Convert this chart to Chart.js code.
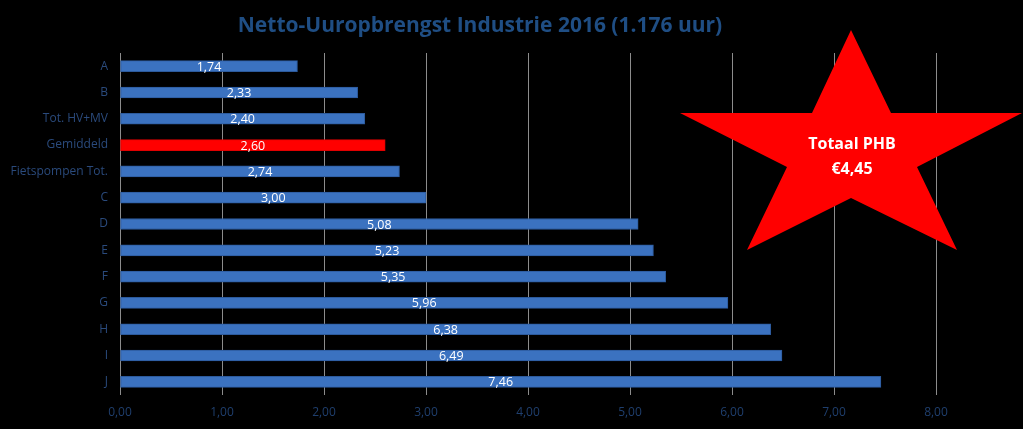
<!DOCTYPE html>
<html>
<head>
<meta charset="utf-8">
<script src="https://cdn.jsdelivr.net/npm/chart.js@4/dist/chart.umd.min.js"></script>
<style>
  html, body { margin: 0; padding: 0; background: #000; }
  canvas { display: block; }
</style>
</head>
<body>
<canvas id="chart" width="1023" height="429"></canvas>
<script>
const categories = ["A", "B", "Tot. HV+MV", "Gemiddeld", "Fietspompen Tot.", "C", "D", "E", "F", "G", "H", "I", "J"];
const values = [1.74, 2.33, 2.40, 2.60, 2.74, 3.00, 5.08, 5.23, 5.35, 5.96, 6.38, 6.49, 7.46];
const highlight = "Gemiddeld";
const xTicks = [0, 1, 2, 3, 4, 5, 6, 7, 8];
const titleText = "Netto-Uuropbrengst Industrie 2016 (1.176 uur)";
const starLines = ["Totaal PHB", "€4,45"];

const fmt = function (v) { return v.toFixed(2).replace(".", ","); };

// callout star outline (pixels on the page)
const starPts = [
  [851, 30], [891, 113], [1022, 113], [917, 167], [957, 250],
  [851, 198], [747, 250], [787, 167], [680, 113], [812, 113]
];

// title, value labels and the star callout
const extras = {
  id: "extras",
  afterDatasetsDraw: function (chart) {
    var ctx = chart.ctx;
    var meta = chart.getDatasetMeta(0);
    ctx.save();
    ctx.fillStyle = "#ffffff";
    ctx.font = "12.5px 'Open Sans'";
    ctx.textAlign = "center";
    ctx.textBaseline = "middle";
    meta.data.forEach(function (bar, i) {
      var x = (bar.x + bar.base) / 2;
      ctx.fillText(fmt(values[i]), x, bar.y + 1);
    });

    ctx.fillStyle = "#1f4e84";
    ctx.font = "bold 21px 'Open Sans'";
    ctx.fillText(titleText, 480, 26);

    ctx.beginPath();
    starPts.forEach(function (p, k) {
      if (k === 0) ctx.moveTo(p[0], p[1]); else ctx.lineTo(p[0], p[1]);
    });
    ctx.closePath();
    ctx.fillStyle = "#ff0000";
    ctx.fill();
    ctx.fillStyle = "#ffffff";
    ctx.font = "bold 16px 'Open Sans'";
    ctx.fillText(starLines[0], 852, 144);
    ctx.fillText(starLines[1], 852, 169);
    ctx.restore();
  }
};

const ctx = document.getElementById("chart").getContext("2d");
const myChart = new Chart(ctx, {
  type: "bar",
  data: {
    labels: categories,
    datasets: [
      {
        data: values,
        backgroundColor: categories.map(function (c) { return c === highlight ? "#ff0000" : "#3b72c0"; }),
        borderColor: categories.map(function (c) { return c === highlight ? "#e00000" : "#2c5a9c"; }),
        borderWidth: 1,
        borderSkipped: false,
        barThickness: 11,
      },
    ],
  },
  options: {
    responsive: false,
    animation: false,
    indexAxis: "y",
    layout: { padding: { top: 53, right: 87, bottom: 0, left: 0 } },
    plugins: {
      legend: { display: false },
      tooltip: { enabled: false },
    },
    scales: {
      x: {
        min: 0,
        max: 8,
        afterBuildTicks: function (axis) {
          axis.ticks = xTicks.map(function (v) { return { value: v }; });
        },
        afterFit: function (axis) { axis.height = 34; },
        grid: { color: "#8c8c8c", lineWidth: 1, drawTicks: false },
        border: { display: false },
        ticks: {
          color: "#1f3f6e",
          font: { family: "'Open Sans'", size: 12 },
          padding: 10,
          callback: function (v) { return fmt(v); },
        },
      },
      y: {
        afterFit: function (axis) { axis.width = 120; },
        grid: { display: false, drawTicks: false },
        border: { display: false },
        ticks: {
          color: "#2a4a7c",
          font: { family: "'Open Sans'", size: 12 },
          padding: 12,
        },
      },
    },
  },
  plugins: [extras],
});
</script>
</body>
</html>
